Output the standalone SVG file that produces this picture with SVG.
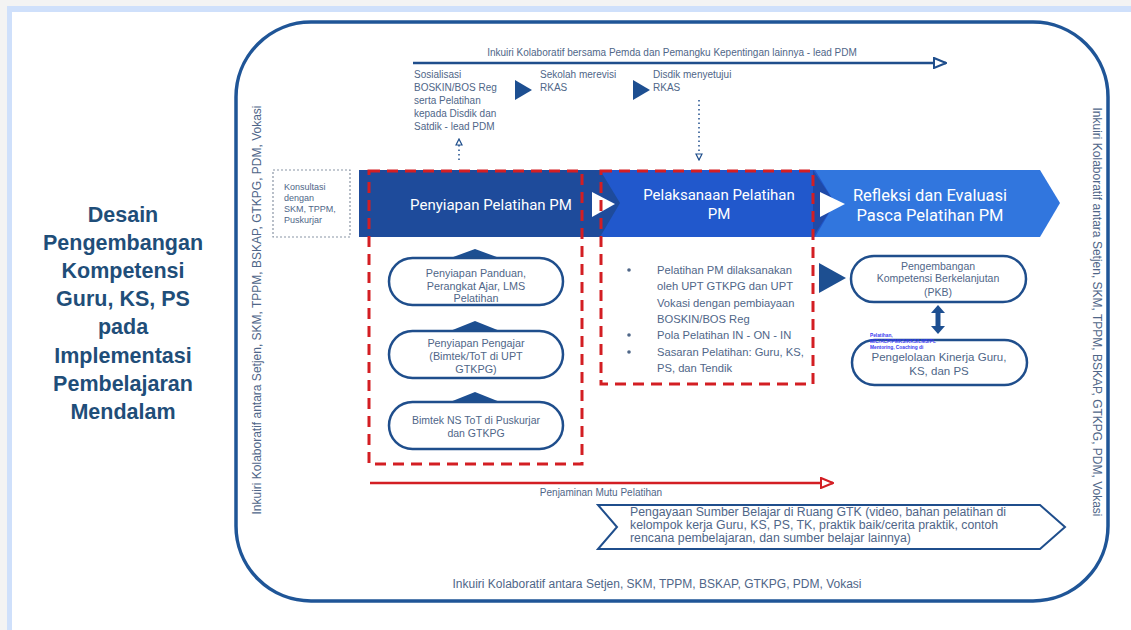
<svg xmlns="http://www.w3.org/2000/svg" width="1131" height="630" viewBox="0 0 1131 630">
<defs>
<style>
.t{font-family:"Liberation Sans",Arial,sans-serif;fill:#4f6688}
.ttl{font-family:"Liberation Sans",Arial,sans-serif;fill:#1f4e79;font-weight:bold;font-size:21.5px}
.hd{font-family:Roboto,"Liberation Sans",sans-serif;fill:#ffffff}
.pill{fill:#ffffff;stroke:#1f4e8c;stroke-width:2.5}
.red{fill:none;stroke:#d31e23;stroke-width:3;stroke-dasharray:11 7}
.tri{fill:#1d4f91}
</style>
<marker id="openBlue" markerWidth="14" markerHeight="12" refX="13" refY="6" orient="auto" markerUnits="userSpaceOnUse">
<path d="M1,1 L13,6 L1,11 Z" fill="#ffffff" stroke="#1f4e8c" stroke-width="2"/>
</marker>
<marker id="openRed" markerWidth="14" markerHeight="12" refX="13" refY="6" orient="auto" markerUnits="userSpaceOnUse">
<path d="M1,1 L13,6 L1,11 Z" fill="#ffffff" stroke="#d31e23" stroke-width="2"/>
</marker>
<marker id="openSmall" markerWidth="8" markerHeight="10" refX="7" refY="4" orient="auto" markerUnits="userSpaceOnUse">
<path d="M1,1 L7,4 L1,7 Z" fill="#ffffff" stroke="#1f4e8c" stroke-width="1.2"/>
</marker>
</defs>
<rect x="0" y="0" width="1131" height="630" fill="#f3f3f3"/>
<rect x="7" y="6" width="1124" height="624" fill="#cfe0fb"/>
<rect x="12" y="12" width="1119" height="618" fill="#ffffff"/>

<g id="title">
<text class="ttl" x="123" y="222" text-anchor="middle">Desain</text>
<text class="ttl" x="123" y="250" text-anchor="middle">Pengembangan</text>
<text class="ttl" x="123" y="278" text-anchor="middle">Kompetensi</text>
<text class="ttl" x="123" y="306" text-anchor="middle">Guru, KS, PS</text>
<text class="ttl" x="123" y="334" text-anchor="middle">pada</text>
<text class="ttl" x="123" y="363" text-anchor="middle">Implementasi</text>
<text class="ttl" x="123" y="391" text-anchor="middle">Pembelajaran</text>
<text class="ttl" x="123" y="419" text-anchor="middle">Mendalam</text>
</g>

<g id="frame">
<rect x="236" y="22" width="872" height="579" rx="75" ry="75" fill="none" stroke="#1f5597" stroke-width="3.5"/>
<text class="t" transform="translate(261,310) rotate(-90)" text-anchor="middle" style="font-size:12px">Inkuiri Kolaboratif antara Setjen, SKM, TPPM, BSKAP, GTKPG, PDM, Vokasi</text>
<text class="t" transform="translate(1093,312) rotate(90)" text-anchor="middle" style="font-size:12px">Inkuiri Kolaboratif antara Setjen, SKM, TPPM, BSKAP, GTKPG, PDM, Vokasi</text>
<text class="t" x="657" y="588" text-anchor="middle" style="font-size:12px">Inkuiri Kolaboratif antara Setjen, SKM, TPPM, BSKAP, GTKPG, PDM, Vokasi</text>
</g>

<g id="top-steps">
<text class="t" x="672" y="56" text-anchor="middle" style="font-size:10px">Inkuiri Kolaboratif bersama Pemda dan Pemangku Kepentingan lainnya - lead PDM</text>
<text class="t" x="414" y="78" style="font-size:10px">Sosialisasi</text>
<text class="t" x="414" y="91" style="font-size:10px">BOSKIN/BOS Reg</text>
<text class="t" x="414" y="104" style="font-size:10px">serta Pelatihan</text>
<text class="t" x="414" y="117" style="font-size:10px">kepada Disdik dan</text>
<text class="t" x="414" y="130" style="font-size:10px">Satdik - lead PDM</text>
<polygon class="tri" points="515,80 532,90 515,100"/>
<text class="t" x="540" y="78" style="font-size:10px">Sekolah merevisi</text>
<text class="t" x="540" y="91" style="font-size:10px">RKAS</text>
<polygon class="tri" points="633,80 650,90 633,100"/>
<text class="t" x="653" y="78" style="font-size:10px">Disdik menyetujui</text>
<text class="t" x="653" y="91" style="font-size:10px">RKAS</text>
</g>

<g id="konsultasi">
<rect x="273" y="170" width="77" height="67" fill="none" stroke="#8a95a5" stroke-width="1.2" stroke-dasharray="2 2"/>
<text class="t" x="284" y="190" style="font-size:9px">Konsultasi</text>
<text class="t" x="284" y="201" style="font-size:9px">dengan</text>
<text class="t" x="284" y="212" style="font-size:9px">SKM, TPPM,</text>
<text class="t" x="284" y="223" style="font-size:9px">Puskurjar</text>
</g>

<g id="band3">
<polygon points="815,170 1040,170 1060,203 1040,237 815,237" fill="#3176de"/>
<text class="hd" x="930" y="201" text-anchor="middle" style="font-size:16.5px">Refleksi dan Evaluasi</text>
<text class="hd" x="930" y="221" text-anchor="middle" style="font-size:16.5px">Pasca Pelatihan PM</text>
</g>
<g id="band2">
<polygon points="600,170 815,170 835,203 815,237 600,237" fill="#2158cc"/>
<polygon points="813,170 835,203 813,237" fill="#1f4aa8"/>
<text class="hd" x="719" y="200" text-anchor="middle" style="font-size:15px">Pelaksanaan Pelatihan</text>
<text class="hd" x="719" y="219" text-anchor="middle" style="font-size:15px">PM</text>
</g>
<g id="band1">
<polygon points="359,170 600,170 620,203 600,237 359,237" fill="#1e4b9b"/>
<text class="hd" x="491" y="210" text-anchor="middle" style="font-size:15px">Penyiapan Pelatihan PM</text>
</g>
<g id="band-markers">
<polygon points="592,192 615,204 592,217" fill="#ffffff"/>
<polygon points="820,192 845,204 820,217" fill="#ffffff"/>
</g>

<g id="box-penyiapan">
<rect class="red" x="369" y="171" width="213" height="293"/>
</g>
<g id="box-pelaksanaan">
<rect class="red" x="601" y="171" width="212" height="213"/>
<circle cx="629" cy="270" r="1.8" fill="#4f6688"/>
<text class="t" x="657" y="274" style="font-size:11.2px">Pelatihan PM dilaksanakan</text>
<text class="t" x="657" y="290" style="font-size:11.2px">oleh UPT GTKPG dan UPT</text>
<text class="t" x="657" y="307" style="font-size:11.2px">Vokasi dengan pembiayaan</text>
<text class="t" x="657" y="323" style="font-size:11.2px">BOSKIN/BOS Reg</text>
<circle cx="629" cy="335" r="1.8" fill="#4f6688"/>
<text class="t" x="657" y="339" style="font-size:11.2px">Pola Pelatihan IN - ON - IN</text>
<circle cx="629" cy="352" r="1.8" fill="#4f6688"/>
<text class="t" x="657" y="356" style="font-size:11.2px">Sasaran Pelatihan: Guru, KS,</text>
<text class="t" x="657" y="372" style="font-size:11.2px">PS, dan Tendik</text>
</g>

<g id="node-panduan">
<polygon class="tri" points="475,249 505,260 445,260"/>
<rect class="pill" x="389" y="258" width="174" height="47" rx="23.5"/>
<text class="t" x="476" y="277" text-anchor="middle" style="font-size:10.8px">Penyiapan Panduan,</text>
<text class="t" x="476" y="290" text-anchor="middle" style="font-size:10.8px">Perangkat Ajar, LMS</text>
<text class="t" x="476" y="302" text-anchor="middle" style="font-size:10.8px">Pelatihan</text>
</g>
<g id="node-pengajar">
<polygon class="tri" points="475,321 505,333 445,333"/>
<rect class="pill" x="389" y="331" width="174" height="47" rx="23.5"/>
<text class="t" x="476" y="347" text-anchor="middle" style="font-size:10.8px">Penyiapan Pengajar</text>
<text class="t" x="476" y="360" text-anchor="middle" style="font-size:10.8px">(Bimtek/ToT di UPT</text>
<text class="t" x="476" y="373" text-anchor="middle" style="font-size:10.8px">GTKPG)</text>
</g>
<g id="node-bimtek">
<polygon class="tri" points="475,392 505,404 445,404"/>
<rect class="pill" x="389" y="402" width="174" height="47" rx="23.5"/>
<text class="t" x="476" y="424" text-anchor="middle" style="font-size:10.5px">Bimtek NS ToT di Puskurjar</text>
<text class="t" x="476" y="437" text-anchor="middle" style="font-size:10.5px">dan GTKPG</text>
</g>

<g id="node-pkb">
<rect class="pill" x="851" y="256" width="175" height="46" rx="23"/>
<text class="t" x="938" y="270" text-anchor="middle" style="font-size:10.5px">Pengembangan</text>
<text class="t" x="938" y="282" text-anchor="middle" style="font-size:10.5px">Kompetensi Berkelanjutan</text>
<text class="t" x="938" y="296" text-anchor="middle" style="font-size:10.5px">(PKB)</text>
</g>
<g id="node-kinerja">
<rect class="pill" x="852" y="340" width="175" height="45" rx="22.5"/>
<text class="t" x="939" y="361" text-anchor="middle" style="font-size:11.5px">Pengelolaan Kinerja Guru,</text>
<text class="t" x="939" y="375" text-anchor="middle" style="font-size:11.5px">KS, dan PS</text>
<text x="870" y="337" style="font-family:'Liberation Sans',Arial,sans-serif;font-size:4.8px;font-weight:bold;fill:#3b3bf0">Pelatihan,</text>
<text x="870" y="343" style="font-family:'Liberation Sans',Arial,sans-serif;font-size:4.8px;font-weight:bold;fill:#3b3bf0">MIC/ACP/PMKS/KKS/LMS/PL</text>
<text x="870" y="349" style="font-family:'Liberation Sans',Arial,sans-serif;font-size:4.8px;font-weight:bold;fill:#3b3bf0">Mentoring, Coaching di</text>
</g>

<g id="node-pengayaan">
<polygon points="598,505 1040,505 1065,527 1040,549 598,549 617,527" fill="#ffffff" stroke="#1f4e8c" stroke-width="2"/>
<text class="t" x="630" y="516" style="font-size:12.3px">Pengayaan Sumber Belajar di Ruang GTK (video, bahan pelatihan di</text>
<text class="t" x="630" y="529" style="font-size:12.3px">kelompok kerja Guru, KS, PS, TK, praktik baik/cerita praktik, contoh</text>
<text class="t" x="630" y="542" style="font-size:12.3px">rencana pembelajaran, dan sumber belajar lainnya)</text>
</g>

<g id="connectors">
<line x1="413" y1="63" x2="946" y2="63" stroke="#1f4e8c" stroke-width="2.5" marker-end="url(#openBlue)"/>
<line x1="459" y1="160" x2="459" y2="139" stroke="#1f4e8c" stroke-width="1.5" stroke-dasharray="1.5 3" marker-end="url(#openSmall)"/>
<line x1="699" y1="100" x2="699" y2="160" stroke="#1f4e8c" stroke-width="1.5" stroke-dasharray="1.5 3" marker-end="url(#openSmall)"/>
<polygon class="tri" points="819,263 846,278 819,293"/>
<line x1="938" y1="312" x2="938" y2="327" stroke="#1d4f91" stroke-width="5"/>
<polygon class="tri" points="931,313 938,305 945,313"/>
<polygon class="tri" points="931,326 938,334 945,326"/>
<line x1="370" y1="483" x2="833" y2="483" stroke="#d31e23" stroke-width="2.5" marker-end="url(#openRed)"/>
<text class="t" x="601" y="496" text-anchor="middle" style="font-size:10px">Penjaminan Mutu Pelatihan</text>
</g>
</svg>
